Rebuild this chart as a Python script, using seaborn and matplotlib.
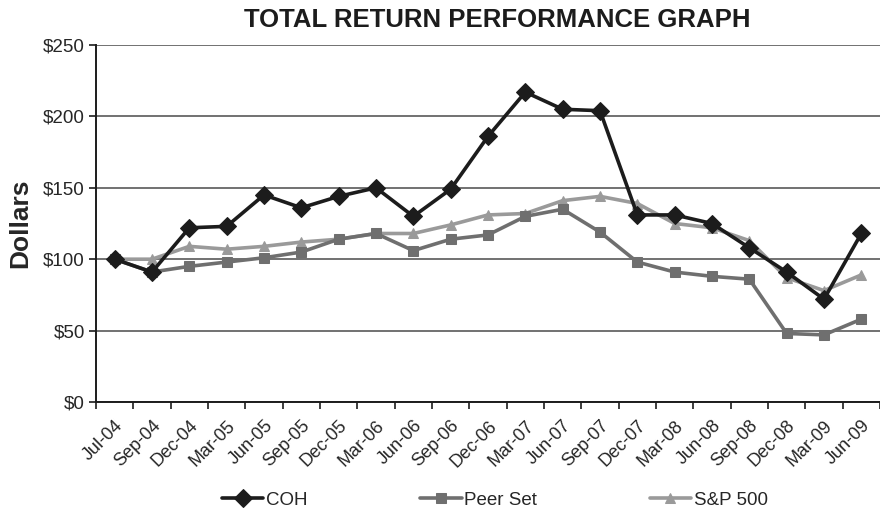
"""Total return performance graph: COH vs peer set vs S&P 500, Jul-04 to Jun-09."""

import matplotlib

matplotlib.use("Agg")
import matplotlib.pyplot as plt
import matplotlib.transforms as mtransforms
import numpy as np
import pandas as pd
import seaborn as sns
from matplotlib.ticker import FixedLocator

sns.set_style("white")
plt.rcParams["font.family"] = ["Liberation Sans", "DejaVu Sans"]

QUARTERS = [
    "Jul-04", "Sep-04", "Dec-04", "Mar-05", "Jun-05", "Sep-05", "Dec-05",
    "Mar-06", "Jun-06", "Sep-06", "Dec-06", "Mar-07", "Jun-07", "Sep-07",
    "Dec-07", "Mar-08", "Jun-08", "Sep-08", "Dec-08", "Mar-09", "Jun-09",
]
COH = [100, 91, 122, 123, 145, 136, 144, 150, 130, 149, 186, 217, 205, 204,
       131, 131, 125, 108, 91, 72, 118]
PEER = [100, 91, 95, 98, 101, 105, 114, 118, 106, 114, 117, 130, 135, 119,
        98, 91, 88, 86, 48, 47, 58]
SP500 = [100, 100, 109, 107, 109, 112, 114, 118, 118, 124, 131, 132, 141, 144,
         139, 125, 122, 113, 87, 78, 89]

SERIES = ["COH", "Peer Set", "S&P 500"]
COLOURS = {"COH": "#1c1c1c", "Peer Set": "#6f6f6f", "S&P 500": "#9a9a9a"}
MARKERS = {"COH": "D", "Peer Set": "s", "S&P 500": "^"}
SIZES = {"COH": 9, "Peer Set": 6.5, "S&P 500": 7.5}


def build_frame() -> pd.DataFrame:
    parts = []
    for name, vals in zip(SERIES, [COH, PEER, SP500]):
        parts.append(pd.DataFrame({"x": np.arange(len(QUARTERS)), "value": vals, "series": name}))
    return pd.concat(parts, ignore_index=True)


def main() -> None:
    df = build_frame()
    fig = plt.figure(figsize=(8.8, 5.17), dpi=100)
    ax = fig.add_axes([96 / 880, 1 - 402 / 517, 1 - 96 / 880, (402 - 45) / 517])

    # draw in reverse so COH sits on top
    for name in SERIES[::-1]:
        sub = df[df["series"] == name]
        sns.lineplot(
            data=sub, x="x", y="value", ax=ax, color=COLOURS[name],
            marker=MARKERS[name], markersize=SIZES[name], markeredgecolor=COLOURS[name],
            linewidth=2.6, label=name, zorder=3 if name == "COH" else 2,
        )

    ax.set_xlim(-0.5, len(QUARTERS) - 0.5)
    ax.set_ylim(0, 250)
    ax.set_yticks(range(0, 251, 50))
    ax.set_yticklabels([f"${v}" for v in range(0, 251, 50)], fontsize=13.5)
    ax.yaxis.grid(True, color="#4a4a4a", linewidth=1.1)
    ax.set_axisbelow(True)

    ax.set_xticks(range(len(QUARTERS)))
    ax.set_xticklabels(QUARTERS, rotation=45, ha="right", rotation_mode="anchor", fontsize=13)
    shift = mtransforms.ScaledTranslation(-6 / 100, 0, fig.dpi_scale_trans)
    for lbl in ax.get_xticklabels():
        lbl.set_transform(lbl.get_transform() + shift)
    ax.xaxis.set_minor_locator(FixedLocator(np.arange(-0.5, len(QUARTERS), 1.0)))
    ax.tick_params(axis="x", which="major", length=0, pad=11)
    ax.tick_params(axis="x", which="minor", length=5, width=1.2, color="#1c1c1c", direction="out", bottom=True)
    ax.tick_params(axis="y", length=5, width=1.2, color="#1c1c1c", direction="out", left=True, pad=3)

    for side in ["top", "right"]:
        ax.spines[side].set_visible(False)
    for side in ["left", "bottom"]:
        ax.spines[side].set_color("#1c1c1c")
        ax.spines[side].set_linewidth(1.4)

    ax.set_xlabel("")
    ax.set_ylabel("Dollars", fontsize=19, fontweight="bold", labelpad=8)

    fig.text(497 / 880, 1 - 20 / 517, "TOTAL RETURN PERFORMANCE GRAPH",
             ha="center", va="center", fontsize=18.5, fontweight="bold", color="#1c1c1c")

    handles, labels = ax.get_legend_handles_labels()
    order = [labels.index(s) for s in SERIES]
    ax.legend([handles[i] for i in order], SERIES, loc="center", bbox_to_anchor=(495 / 880, 1 - 500 / 517),
              bbox_transform=fig.transFigure, ncol=3, frameon=False, fontsize=13.5,
              handlelength=2.2, handletextpad=0.15, columnspacing=6.0)

    fig.savefig("out.png", dpi=100)
    plt.close(fig)


if __name__ == "__main__":
    main()
